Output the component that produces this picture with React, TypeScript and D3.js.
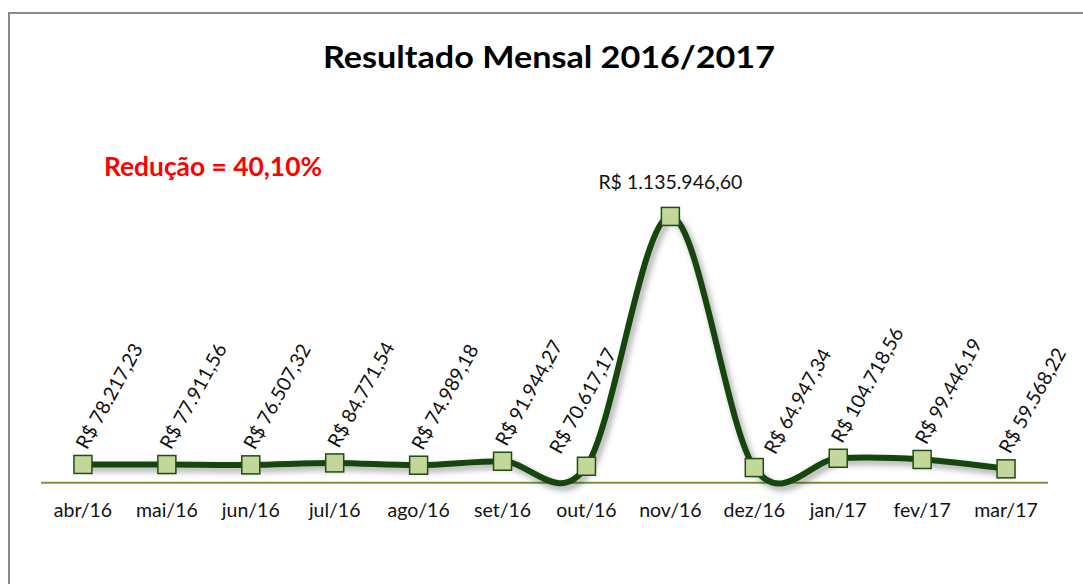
import React from "react";
import * as d3 from "d3";

const months = ["abr/16", "mai/16", "jun/16", "jul/16", "ago/16", "set/16", "out/16", "nov/16", "dez/16", "jan/17", "fev/17", "mar/17"];
const values = [78217.23, 77911.56, 76507.32, 84771.54, 74989.18, 91944.27, 70617.17, 1135946.6, 64947.34, 104718.56, 99446.19, 59568.22];
const valueLabels = ["R$ 78.217,23", "R$ 77.911,56", "R$ 76.507,32", "R$ 84.771,54", "R$ 74.989,18", "R$ 91.944,27", "R$ 70.617,17", "R$ 1.135.946,60", "R$ 64.947,34", "R$ 104.718,56", "R$ 99.446,19", "R$ 59.568,22"];
const title = "Resultado Mensal 2016/2017";
const note = "Redução = 40,10%";
const yDomain = [0, 1200000];

const W = 1083;
const H = 584;
const FONT = "Lato, 'Open Sans', sans-serif";

export default function App() {
  const x = d3.scaleBand<string>().domain(months).range([41, 1048]);
  const cx = (m: string) => (x(m) as number) + x.bandwidth() / 2;
  const y = d3.scaleLinear().domain(yDomain).range([482.8, 201.4]);
  const pts: [number, number][] = months.map((m, i) => [cx(m), y(values[i])]);
  const line = d3.line().curve(d3.curveCatmullRom.alpha(0))(pts) || "";
  const peak = values.indexOf(d3.max(values) as number);
  const nudge = (i: number): [number, number] => {
    if (months[i] === "out/16") return [-26, -11];
    if (months[i] === "dez/16") return [21, -12];
    return [4, -14];
  };
  const ms = 18;
  return (
    <svg width={W} height={H} style={{ position: "absolute", left: 0, top: 0, background: "#fff" }} fontFamily={FONT}>
      <defs>
        <filter id="sh" x="-10%" y="-10%" width="120%" height="130%">
          <feDropShadow dx="3" dy="4" stdDeviation="3" floodColor="#000" floodOpacity="0.35" />
        </filter>
      </defs>
      <rect x={0} y={0} width={W} height={H} fill="#fff" />
      <path d={`M9,${H + 5} V13 H${W + 5}`} fill="none" stroke="#8a8a8a" strokeWidth={2} />
      <text x={549} y={68} textAnchor="middle" fontSize={30} fontWeight="bold" fill="#000" textLength={452} lengthAdjust="spacingAndGlyphs">{title}</text>
      <text x={104} y={176} fontSize={26} fontWeight="bold" fill="#ff0000" textLength={218} lengthAdjust="spacingAndGlyphs">{note}</text>
      <line x1={41} x2={1048} y1={y(0)} y2={y(0)} stroke="#77933c" strokeWidth={2} />
      {months.map((m) => (
        <text key={m} x={cx(m)} y={517} textAnchor="middle" fontSize={19.5} fill="#111">{m}</text>
      ))}
      <path d={line} fill="none" stroke="#154510" strokeWidth={6} strokeLinejoin="round" filter="url(#sh)" />
      {pts.map(([px, py], i) => (
        <rect key={i} x={px - ms / 2} y={py - ms / 2} width={ms} height={ms} fill="#c4d79b" stroke="#1f4d14" strokeWidth={1.5} />
      ))}
      {pts.map(([px, py], i) => {
        if (i === peak) {
          return (
            <text key={"l" + i} x={px} y={py - 27} textAnchor="middle" fontSize={19.5} fill="#111">{valueLabels[i]}</text>
          );
        }
        const [dx, dy] = nudge(i);
        return (
          <text key={"l" + i} transform={`translate(${px + dx},${py + dy}) rotate(-61)`} fontSize={19.5} fill="#111">{valueLabels[i]}</text>
        );
      })}
    </svg>
  );
}
